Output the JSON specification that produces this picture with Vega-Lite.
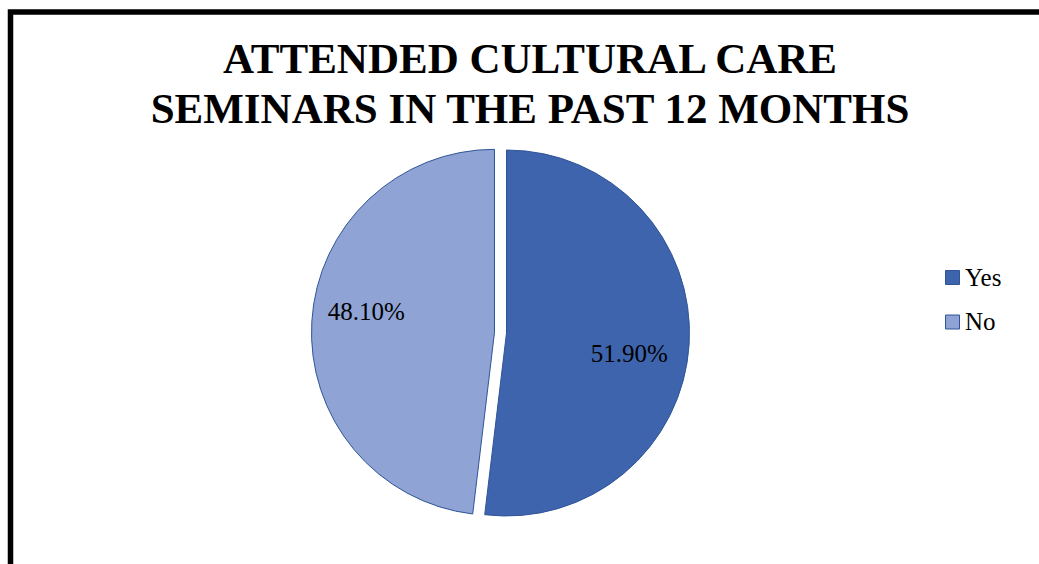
{
  "$schema": "https://vega.github.io/schema/vega-lite/v6.json",
  "width": 1039,
  "height": 564,
  "autosize": {"type": "none"},
  "padding": {"left": 10.5, "top": 12, "right": -10.5, "bottom": -12},
  "background": "white",
  "view": {"stroke": "black", "strokeWidth": 5.5},
  "config": {
    "view": {"stroke": "black", "strokeWidth": 5.5},
    "font": "Liberation Serif"
  },
  "title": {
    "text": ["ATTENDED CULTURAL CARE", "SEMINARS IN THE PAST 12 MONTHS"],
    "font": "Liberation Serif",
    "fontSize": 43,
    "fontWeight": "bold",
    "color": "black",
    "lineHeight": 50,
    "anchor": "middle",
    "frame": "group",
    "offset": -120
  },
  "data": {
    "values": [
      {"answer": "Yes", "share": 0.519},
      {"answer": "No", "share": 0.481}
    ]
  },
  "transform": [
    {"stack": "share", "groupby": [], "sort": [{"field": "answer", "order": "descending"}], "as": ["s0", "s1"]},
    {"calculate": "(datum.s0 + datum.s1) / 2", "as": "mid"}
  ],
  "layer": [
    {
      "transform": [{"filter": "datum.answer === 'Yes'"}],
      "layer": [
        {
          "mark": {"type": "arc", "outerRadius": 183, "stroke": "#2f5597", "strokeWidth": 1, "xOffset": -23.5, "yOffset": 39},
          "encoding": {
            "theta": {"field": "s0", "type": "quantitative", "stack": null, "scale": {"domain": [0, 1]}},
            "theta2": {"field": "s1"},
            "color": {
              "field": "answer", "type": "nominal",
              "scale": {"domain": ["Yes", "No"], "range": ["#3d64ad", "#8fa3d4"]},
              "legend": {
                "orient": "none", "legendX": 929.5, "legendY": 253, "title": null,
                "symbolType": "square", "symbolSize": 196, "symbolStrokeColor": "#2f5597", "symbolStrokeWidth": 1,
                "labelFont": "Liberation Serif", "labelFontSize": 25, "labelColor": "black",
                "labelOffset": 0, "rowPadding": 18.5, "padding": 0
              }
            }
          }
        }
      ]
    },
    {
      "transform": [{"filter": "datum.answer === 'No'"}],
      "layer": [
        {
          "mark": {"type": "arc", "outerRadius": 183, "stroke": "#2f5597", "strokeWidth": 1, "xOffset": -35.5, "yOffset": 38.3},
          "encoding": {
            "theta": {"field": "s0", "type": "quantitative", "stack": null, "scale": {"domain": [0, 1]}},
            "theta2": {"field": "s1"},
            "color": {"field": "answer", "type": "nominal"}
          }
        }
      ]
    },
    {
      "transform": [{"filter": "datum.answer === 'Yes'"}],
      "mark": {"type": "text", "radius": 123, "xOffset": -23.5, "yOffset": 39, "dy": 14, "fontSize": 25, "font": "Liberation Serif", "color": "black", "align": "center", "baseline": "middle"},
      "encoding": {
        "theta": {"field": "mid", "type": "quantitative", "stack": null, "scale": {"domain": [0, 1]}},
        "text": {"field": "share", "type": "quantitative", "format": ".2%"}
      }
    },
    {
      "transform": [{"filter": "datum.answer === 'No'"}],
      "mark": {"type": "text", "radius": 128.5, "xOffset": -35.5, "yOffset": 38.3, "dy": -12.3, "fontSize": 25, "font": "Liberation Serif", "color": "black", "align": "center", "baseline": "middle"},
      "encoding": {
        "theta": {"field": "mid", "type": "quantitative", "stack": null, "scale": {"domain": [0, 1]}},
        "text": {"field": "share", "type": "quantitative", "format": ".2%"}
      }
    }
  ]
}
